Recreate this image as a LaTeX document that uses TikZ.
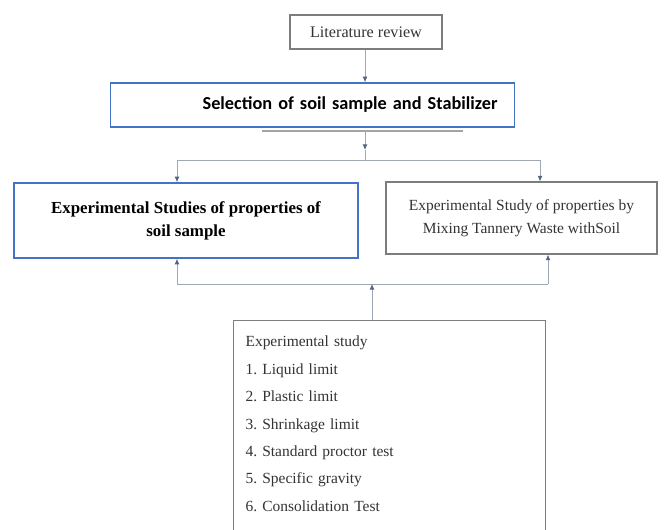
\documentclass[tikz,border=0pt]{standalone}
\usepackage{fontspec}
\setmainfont{Liberation Serif}
\newfontfamily\calibri{Carlito}
\usetikzlibrary{arrows.meta}
\definecolor{boxblue}{RGB}{68,114,196}
\definecolor{boxgray}{RGB}{125,125,125}
\definecolor{linegray}{RGB}{160,168,182}
\definecolor{tipblue}{RGB}{85,100,130}
\tikzset{b/.style={draw=boxblue,line width=1pt,fill=white}}
\tikzset{g/.style={draw=boxgray,line width=0.8pt}}
\tikzset{c/.style={draw=linegray,line width=0.6pt}}
\tikzset{a/.style={-{Latex[length=4pt,width=3.5pt,color=tipblue]}}}
\frenchspacing
\begin{document}
\begin{tikzpicture}[x=0.025cm,y=-0.025cm]
          \useasboundingbox (0,0) rectangle (665,529);
          \clip (0,0) rectangle (665,529);
          \node[g,minimum width=3.8cm,minimum height=0.85cm,text=black!80,font=\fontsize{11.5}{12}\selectfont] (lit) at (366,32) {Literature review};
          \draw[g,draw=boxgray!70] (262,131) -- (463,131);
          \node[b,text width=263pt,inner xsep=12pt,minimum height=1.1cm,align=right,font=\calibri\bfseries\fontsize{13}{14}\selectfont] (sel) at (312.5,105) {Selection of soil sample and Stabilizer};
          \node[b,minimum width=8.6cm,minimum height=1.875cm,align=center,font=\bfseries\fontsize{12}{16.5}\selectfont] (left) at (186,220.5) {Experimental Studies of properties of\\soil sample};
          \node[g,minimum width=6.775cm,minimum height=1.8cm,align=center,text=black!80,font=\fontsize{11}{16.5}\selectfont] (right) at (521.5,218) {Experimental Study of properties by\\Mixing Tannery Waste withSoil};
          \node[g,anchor=north west,text width=7.2cm,inner xsep=0.3cm,inner ysep=11pt,text depth=5cm,align=left,text=black!80,font=\fontsize{11}{19.5}\selectfont] (list) at (233,320) {Experimental study\\1. Liquid limit\\2. Plastic limit\\3. Shrinkage limit\\4. Standard proctor test\\5. Specific gravity\\6. Consolidation Test};
          % connectors
          \coordinate (j1) at (365,160);
          \coordinate (m1) at (365,150);
          \coordinate (tl) at (177,160);
          \coordinate (tr) at (540,160);
          \coordinate (bl) at (177,284);
          \coordinate (br) at (548,284);
          \coordinate (j2) at (372,284);
          \draw[c,a] (lit.south -| j1) -- (sel.north -| j1);
          \draw[c,a] (j1 |- 0,131) -- (m1);
          \draw[c] (m1) -- (j1);
          \draw[c] (tl) -- (tr);
          \draw[c,a] (tl) -- (tl |- left.north);
          \draw[c,a] (tr) -- (tr |- right.north);
          \draw[c] (bl) -- (br);
          \draw[c,a] (bl) -- (bl |- left.south);
          \draw[c,a] (br) -- (br |- right.south);
          \draw[c,a] (list.north -| j2) -- (j2);
        \end{tikzpicture}
\end{document}
